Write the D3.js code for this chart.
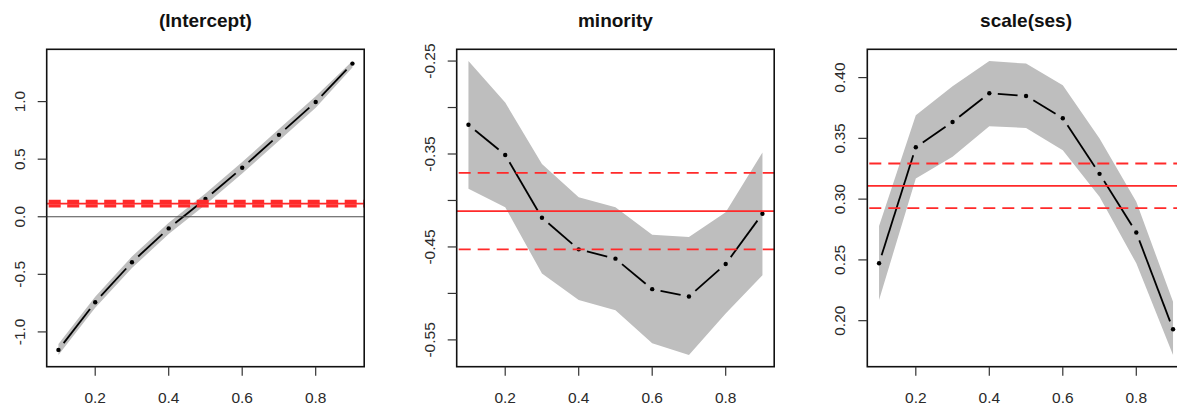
<!DOCTYPE html>
<html><head><meta charset="utf-8">
<script src="https://cdn.jsdelivr.net/npm/d3@7"></script>
<style>
html,body{margin:0;padding:0;background:#fff;}
svg{display:block;}
text{font-family:"Liberation Sans",Arial,Helvetica,sans-serif;}
</style></head>
<body><svg id="chart" width="1177" height="409"></svg>
<script>
// ---- data ----
const taus = [0.1,0.2,0.3,0.4,0.5,0.6,0.7,0.8,0.9];
const panelTitles = ["(Intercept)","minority","scale(ses)"];

const interceptEst = [-1.156,-0.742,-0.395,-0.101,0.154,0.425,0.711,0.997,1.330];
const interceptLo  = [-1.200,-0.790,-0.445,-0.150,0.105,0.375,0.661,0.947,1.295];
const interceptHi  = [-1.105,-0.695,-0.345,-0.052,0.203,0.475,0.761,1.047,1.352];
const interceptOls = [0.114,0.094,0.134]; // estimate, lower, upper

const minorityEst = [-0.3186,-0.351,-0.4186,-0.4526,-0.4626,-0.4954,-0.5033,-0.4683,-0.4143];
const minorityLo  = [-0.3875,-0.4072,-0.4786,-0.5072,-0.518,-0.5536,-0.5662,-0.5215,-0.4804];
const minorityHi  = [-0.25,-0.2947,-0.3607,-0.3965,-0.4072,-0.4368,-0.4394,-0.4126,-0.3483];
const minorityOls = [-0.4114,-0.4526,-0.3703];

const sesEst = [0.2472,0.3427,0.3635,0.3871,0.3849,0.3666,0.3208,0.2726,0.1929];
const sesLo  = [0.217,0.317,0.3348,0.36,0.3586,0.3403,0.3019,0.2472,0.1718];
const sesHi  = [0.2778,0.369,0.3929,0.4136,0.4115,0.3937,0.3499,0.2978,0.2156];
const sesOls = [0.3109,0.2926,0.3293];

const xTicks = [0.2,0.4,0.6,0.8];
const yTicks = [
  [-1.0,-0.5,0.0,0.5,1.0],
  [-0.55,-0.50,-0.45,-0.40,-0.35,-0.30,-0.25],
  [0.20,0.25,0.30,0.35,0.40]
];
const yTickLabels = [
  ["-1.0","-0.5","0.0","0.5","1.0"],
  ["-0.55","","-0.45","","-0.35","","-0.25"],
  ["0.20","0.25","0.30","0.35","0.40"]
];
const xTickLabels = ["0.2","0.4","0.6","0.8"];

const panels = [
  {title: panelTitles[0], est: interceptEst, lo: interceptLo, hi: interceptHi, ols: interceptOls, thickOls: true},
  {title: panelTitles[1], est: minorityEst, lo: minorityLo, hi: minorityHi, ols: minorityOls, thickOls: false},
  {title: panelTitles[2], est: sesEst, lo: sesLo, hi: sesHi, ols: sesOls, thickOls: false}
];

// ---- layout ----
const svg = d3.select("#chart");
const boxLefts = [46.7, 456.7, 867.3];
const boxW = 317.5, boxTop = 49.3, boxBottom = 366.7;
const padExt = ext => { const r = ext[1]-ext[0]; return [ext[0]-0.04*r, ext[1]+0.04*r]; };

panels.forEach((p, i) => {
  const L = boxLefts[i];
  const x = d3.scaleLinear().domain(padExt(d3.extent(taus))).range([L, L+boxW]);
  const y = d3.scaleLinear().domain(padExt([d3.min(p.lo), d3.max(p.hi)])).range([boxBottom, boxTop]);
  const g = svg.append("g");

  // band polygon
  const area = d3.area().x((d,k)=>x(taus[k])).y0((d,k)=>y(p.lo[k])).y1((d,k)=>y(p.hi[k]));
  g.append("path").datum(taus).attr("d", area).attr("fill", "#bebebe").attr("stroke","none");

  // type "b" line with gaps around points
  const gap = 8.5;
  for (let k = 0; k < taus.length-1; k++) {
    const x1 = x(taus[k]), y1 = y(p.est[k]), x2 = x(taus[k+1]), y2 = y(p.est[k+1]);
    const dx = x2-x1, dy = y2-y1, len = Math.hypot(dx,dy);
    if (len <= 2*gap) continue;
    const ux = dx/len, uy = dy/len;
    g.append("line")
      .attr("x1", x1+ux*gap).attr("y1", y1+uy*gap)
      .attr("x2", x2-ux*gap).attr("y2", y2-uy*gap)
      .attr("stroke", "#000").attr("stroke-width", 1.8);
  }
  g.selectAll("circle.pt").data(taus).enter().append("circle")
    .attr("cx", d=>x(d)).attr("cy", (d,k)=>y(p.est[k])).attr("r", 2.2).attr("fill","#000");

  // zero line
  const yd = y.domain();
  if (yd[0] < 0 && yd[1] > 0) {
    g.append("line").attr("x1", L).attr("x2", L+boxW).attr("y1", y(0)).attr("y2", y(0))
      .attr("stroke", "#4d4d4d").attr("stroke-width", 1.2);
  }

  // OLS lines
  g.append("line").attr("x1", L).attr("x2", L+boxW).attr("y1", y(p.ols[0])).attr("y2", y(p.ols[0]))
    .attr("stroke", "#ff2a2a").attr("stroke-width", 1.8);
  [p.ols[1], p.ols[2]].forEach(v => {
    g.append("line").attr("x1", L+2).attr("x2", L+boxW).attr("y1", y(v)).attr("y2", y(v))
      .attr("stroke", "#ff2a2a").attr("stroke-width", p.thickOls ? 3.2 : 1.8)
      .attr("stroke-dasharray", p.thickOls ? "12,6.5" : "12,7");
  });

  // frame
  g.append("rect").attr("x", L).attr("y", boxTop).attr("width", boxW).attr("height", boxBottom-boxTop)
    .attr("fill","none").attr("stroke","#111").attr("stroke-width",1.6);

  // x axis
  const xa = g.append("g");
  xTicks.forEach((t, k) => {
    xa.append("line").attr("x1", x(t)).attr("x2", x(t)).attr("y1", boxBottom).attr("y2", boxBottom+9)
      .attr("stroke","#333").attr("stroke-width",1.2);
    xa.append("text").attr("x", x(t)).attr("y", 403).attr("text-anchor","middle")
      .attr("font-size", 15.5).attr("fill","#2a2a2a").text(xTickLabels[k]);
  });
  // y axis
  const ya = g.append("g");
  yTicks[i].forEach((t, k) => {
    ya.append("line").attr("x1", L-9).attr("x2", L).attr("y1", y(t)).attr("y2", y(t))
      .attr("stroke","#333").attr("stroke-width",1.2);
    if (yTickLabels[i][k]) {
      ya.append("text").attr("transform", `translate(${L-22},${y(t)}) rotate(-90)`)
        .attr("text-anchor","middle").attr("font-size", 15.5).attr("fill","#2a2a2a").text(yTickLabels[i][k]);
    }
  });

  // title
  g.append("text").attr("x", L+boxW/2).attr("y", 27).attr("text-anchor","middle")
    .attr("font-size", 19).attr("font-weight","bold").attr("fill","#111").text(p.title);
});
</script></body></html>
